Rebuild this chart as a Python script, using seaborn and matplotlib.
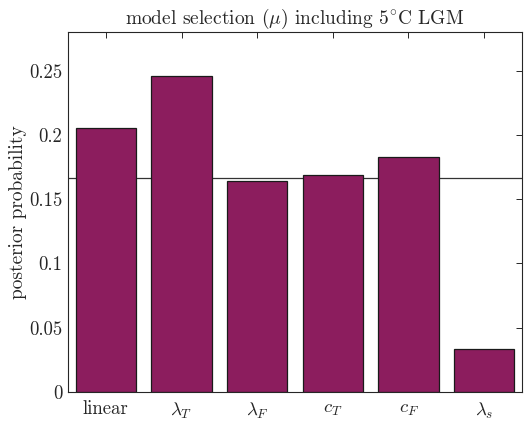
import numpy as np
import pandas as pd
import seaborn as sns
import matplotlib.pyplot as plt

# posterior model probabilities
models = ["linear", r"$\lambda_T$", r"$\lambda_F$", r"$c_T$", r"$c_F$", r"$\lambda_s$"]
probs = [0.205, 0.246, 0.164, 0.169, 0.183, 0.0335]
prior = 1.0 / 6.0
yticks = [0, 0.05, 0.1, 0.15, 0.2, 0.25]
ytick_labels = ["0", "0.05", "0.1", "0.15", "0.2", "0.25"]

sns.set_theme(style="white")
plt.rcParams["font.family"] = "serif"
plt.rcParams["font.serif"] = ["cmr10"]
plt.rcParams["mathtext.fontset"] = "cm"
plt.rcParams["axes.unicode_minus"] = False

df = pd.DataFrame({"model": models, "prob": probs})

fig = plt.figure(figsize=(5.25, 4.24), dpi=100)
ax = fig.add_axes([68 / 525, 32 / 424, 454 / 525, 360 / 424])

sns.barplot(data=df, x="model", y="prob", color="#8C1D5E", saturation=1,
            width=0.8, edgecolor="#1a1a1a", linewidth=0.9, ax=ax)

ax.axhline(prior, color="#333333", linewidth=0.9, zorder=0.5)

ax.set_xlim(-0.5, 5.5)
ax.set_ylim(0, 0.28)
ax.set_yticks(yticks)
ax.set_yticklabels(ytick_labels)
ax.set_xlabel("")
ax.set_ylabel("posterior probability", fontsize=14, labelpad=1.5)
ax.set_title(r"model selection ($\mu$) including 5$^{\circ}$C LGM", fontsize=14, pad=6)

for s in ax.spines.values():
    s.set_visible(True)
    s.set_color("#262626")
    s.set_linewidth(0.8)
ax.tick_params(axis="both", direction="in", length=4, width=0.7, color="#262626",
               top=True, right=True, labelsize=13.5, labelcolor="#262626")
ax.tick_params(axis="x", pad=6)
ax.tick_params(axis="y", pad=4)

fig.savefig("out.png", dpi=100)
